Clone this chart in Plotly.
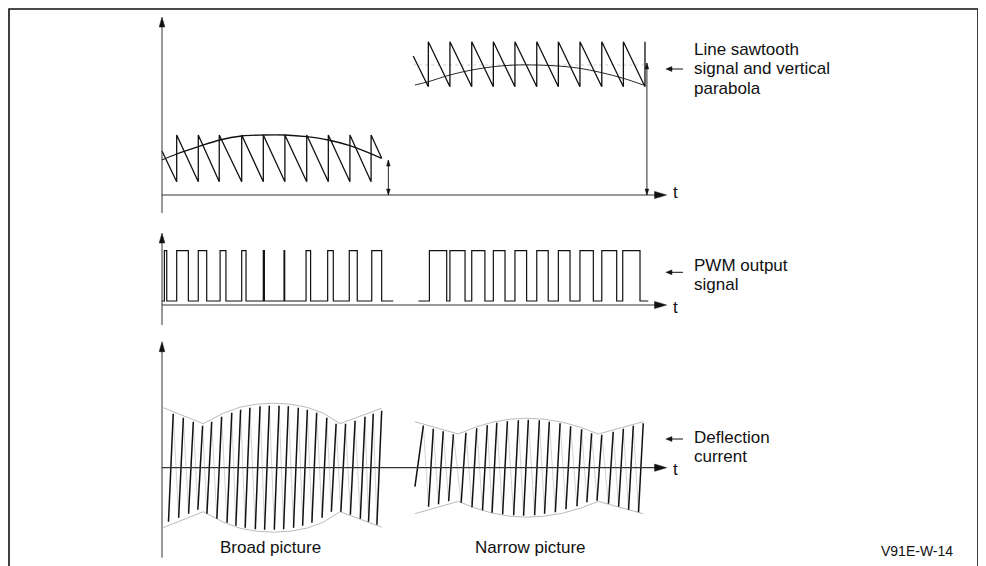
import plotly.graph_objects as go

# Time axis: one unit = one line period of the sawtooth, t = 0 at the vertical axes
T_END = 23.36

# ---- panel 1: line sawtooth and vertical parabola ----
SAW_BROAD_FLYBACK = [0.68, 1.68, 2.65, 3.69, 4.69, 5.69, 6.70, 7.70, 8.70, 9.68]
SAW_BROAD_LEVELS = (1.33, 6.0)
SAW_BROAD_START = (0.0, 4.4)
SAW_BROAD_END = (10.17, 3.67)
PARA_BROAD_T = [0.0, 0.68, 1.68, 2.68, 3.69, 4.69, 5.69, 6.70, 7.70, 8.70, 9.63, 10.17]
PARA_BROAD_V = [3.5, 4.1, 4.83, 5.5, 5.9, 6.0, 6.0, 5.83, 5.5, 4.93, 4.17, 3.67]

SAW_NARROW_FLYBACK = [12.33, 13.33, 14.34, 15.34, 16.34, 17.35, 18.35, 19.35, 20.36, 21.36, 22.36]
SAW_NARROW_LEVELS = (10.83, 15.33)
SAW_NARROW_START = (11.63, 13.9)
PARA_NARROW_T = [11.71, 12.33, 13.33, 14.34, 15.34, 16.34, 17.35, 18.35, 19.35, 20.36, 21.36, 22.28]
PARA_NARROW_V = [11.0, 11.33, 12.0, 12.5, 12.83, 13.0, 13.0, 12.9, 12.67, 12.23, 11.67, 11.0]

DC_MARK_T = [10.48, 22.45]
DC_MARK_V = [3.5, 13.2]

# ---- panel 2: PWM output ----
PWM_LEVELS = (0.4, 5.43)
PWM_BROAD_RISE = [0.11, 0.68, 1.68, 2.69, 3.69, 4.69, 5.65, 6.67, 7.67, 8.67, 9.71]
PWM_BROAD_FALL = [0.22, 1.22, 2.07, 2.96, 3.89, 4.74, 5.68, 6.88, 7.93, 9.04, 10.17]
PWM_BROAD_SPAN = (0.0, 10.71)
PWM_NARROW_RISE = [12.38, 13.33, 14.34, 15.34, 16.34, 17.35, 18.35, 19.35, 20.36, 21.33]
PWM_NARROW_FALL = [13.18, 14.03, 14.95, 15.88, 16.88, 17.88, 18.89, 19.97, 21.05, 22.13]
PWM_NARROW_SPAN = (11.87, 22.51)

# ---- panel 3: deflection current ----
ENV_BROAD_T = [0.06, 1.91, 2.84, 3.61, 4.38, 5.15, 5.93, 6.70, 7.47, 8.24, 10.17]
ENV_BROAD_A = [6.0, 4.4, 5.45, 6.05, 6.35, 6.45, 6.35, 6.05, 5.45, 4.4, 5.95]
ENV_NARROW_T = [11.71, 13.72, 14.51, 15.30, 16.09, 16.88, 17.71, 18.54, 19.37, 20.20, 22.28]
ENV_NARROW_A = [4.6, 3.37, 4.05, 4.55, 4.85, 4.95, 4.85, 4.55, 4.05, 3.37, 4.6]

DEFL_BROAD_T = [0.52, 0.99, 1.45, 1.88, 2.30, 2.76, 3.23, 3.64, 4.07, 4.54, 4.97, 5.42,
                5.85, 6.31, 6.73, 7.16, 7.63, 8.06, 8.50, 8.94, 9.40, 9.78, 10.17]
DEFL_BROAD_A = [5.4, 5.0, 4.6, 4.2, 4.6, 5.1, 5.5, 5.8, 6.0, 6.15, 6.2, 6.2,
                6.15, 6.0, 5.8, 5.5, 5.0, 4.4, 4.4, 4.7, 5.1, 5.4, 5.7]
DEFL_NARROW_T = [12.10, 12.56, 13.02, 13.49, 14.07, 14.57, 15.06, 15.50, 15.99, 16.50, 16.96,
                 17.47, 17.93, 18.43, 18.92, 19.43, 19.89, 20.36, 20.89, 21.36, 21.82, 22.28]
DEFL_NARROW_A = [4.2, 3.9, 3.65, 3.35, 3.5, 3.95, 4.25, 4.5, 4.65, 4.75, 4.8,
                 4.75, 4.6, 4.45, 4.15, 3.85, 3.45, 3.3, 3.6, 3.9, 4.2, 4.45]
DEFL_NARROW_START = (11.71, -1.9)

# drawing scale (pixels per unit); the page body adds an 8 px offset
PX_T, PX_V = 21.6, 10.0
OFF = 8
INK = "#111111"
FONT = "Liberation Sans, Arial, sans-serif"

fig = go.Figure()


def add_line(ts, vs, yaxis, color=INK, width=1.3, dash=None, shape="linear"):
    fig.add_trace(go.Scatter(x=ts, y=vs, yaxis=yaxis, mode="lines", hoverinfo="skip",
                             line=dict(color=color, width=width, dash=dash, shape=shape)))


def sawtooth(start, flyback, levels, end=None):
    ts, vs = [start[0]], [start[1]]
    for f in flyback:
        ts += [f, f]
        vs += [levels[0], levels[1]]
    if end:
        ts.append(end[0])
        vs.append(end[1])
    return ts, vs


def pwm(span, rise, fall, levels):
    lo, hi = levels
    ts, vs = [span[0]], [lo]
    for r, f in zip(rise, fall):
        ts += [r, r, f, f]
        vs += [lo, hi, hi, lo]
    ts.append(span[1])
    vs.append(lo)
    return ts, vs


def deflection(tops, amps, slant=0.22, start=None):
    black_t, black_v, grey_t, grey_v = [], [], [], []
    for i, (t, a) in enumerate(zip(tops, amps)):
        if i == 0 and start:
            b = start
        else:
            b = (t - slant, -a)
        black_t += [b[0], t, None]
        black_v += [b[1], a, None]
        if i + 1 < len(tops):
            grey_t += [t, tops[i + 1] - slant, None]
            grey_v += [a, -amps[i + 1], None]
    return black_t, black_v, grey_t, grey_v


shapes = []


def head(t, v, direction, yref, length=11, half=3.2):
    lt, lv, ht, hv = length / PX_T, length / PX_V, half / PX_T, half / PX_V
    if direction == "right":
        pts = [(t, v), (t - lt, v + hv), (t - lt, v - hv)]
    elif direction == "left":
        pts = [(t, v), (t + lt, v + hv), (t + lt, v - hv)]
    elif direction == "up":
        pts = [(t, v), (t - ht, v - lv), (t + ht, v - lv)]
    else:
        pts = [(t, v), (t - ht, v + lv), (t + ht, v + lv)]
    path = "M " + " L ".join(f"{a},{b}" for a, b in pts) + " Z"
    shapes.append(dict(type="path", path=path, xref="x", yref=yref,
                       fillcolor=INK, line=dict(color=INK, width=0.5)))


def seg(t0, v0, t1, v1, yref, width=1.1, color=INK):
    shapes.append(dict(type="line", x0=t0, y0=v0, x1=t1, y1=v1, xref="x", yref=yref,
                       line=dict(color=color, width=width)))


# panel 1
add_line([SAW_NARROW_START[0], SAW_NARROW_FLYBACK[-1]], [13.0, 13.0], "y",
         color="#cfcfcf", width=1, dash="dot")
add_line(PARA_BROAD_T, PARA_BROAD_V, "y", width=1.3, shape="spline")
add_line(PARA_NARROW_T, PARA_NARROW_V, "y", width=0.9, shape="spline")
t, v = sawtooth(SAW_BROAD_START, SAW_BROAD_FLYBACK, SAW_BROAD_LEVELS, SAW_BROAD_END)
add_line(t, v, "y", width=1.3)
t, v = sawtooth(SAW_NARROW_START, SAW_NARROW_FLYBACK, SAW_NARROW_LEVELS)
add_line(t, v, "y", width=1.3)

# panel 2
t, v = pwm(PWM_BROAD_SPAN, PWM_BROAD_RISE, PWM_BROAD_FALL, PWM_LEVELS)
add_line(t, v, "y2", width=1.2)
t, v = pwm(PWM_NARROW_SPAN, PWM_NARROW_RISE, PWM_NARROW_FALL, PWM_LEVELS)
add_line(t, v, "y2", width=1.2)

# panel 3
for et, ea in [(ENV_BROAD_T, ENV_BROAD_A), (ENV_NARROW_T, ENV_NARROW_A)]:
    add_line(et, ea, "y3", color="#a8a8a8", width=0.8)
    add_line(et, [-a for a in ea], "y3", color="#a8a8a8", width=0.8)
for tops, amps, start in [(DEFL_BROAD_T, DEFL_BROAD_A, None),
                          (DEFL_NARROW_T, DEFL_NARROW_A, DEFL_NARROW_START)]:
    bt, bv, gt, gv = deflection(tops, amps, start=start)
    add_line(gt, gv, "y3", color="#c2c2c2", width=0.7)
    add_line(bt, bv, "y3", width=1.5)

# axes of the three panels
for yref, lo, hi in [("y", -1.8, 17.8), ("y2", -2.0, 7.2), ("y3", -9.0, 12.6)]:
    seg(0, lo, 0, hi - 0.8, yref, width=1.0, color="#333333")
    head(0, hi, "up", yref, length=10, half=2.8)
    seg(0, 0, T_END - 0.4, 0, yref, width=1.3 if yref == "y3" else 1.0, color="#333333")
    head(T_END, 0, "right", yref, length=12, half=3.6)

# amplitude markers (double arrows) in panel 1
for mt, mv in zip(DC_MARK_T, DC_MARK_V):
    seg(mt, 0, mt, mv, "y", width=0.9)
    head(mt, mv, "up", "y", length=6, half=1.8)
    head(mt, 0, "down", "y", length=6, half=1.8)

# pointer arrows next to the descriptions
for yref, v in [("y", 12.6), ("y2", 3.27), ("y3", 2.87)]:
    seg(23.5, v, 24.12, v, yref, width=1.0)
    head(23.33, v, "left", yref, length=6, half=2.4)

# frame of the figure
shapes.append(dict(type="rect", xref="paper", yref="paper", x0=1 / 986, x1=(978 - OFF) / 986,
                   y0=-0.1, y1=1 - 1 / 566, line=dict(color=INK, width=1.6)))

annotations = []


def label(text, t, v, yref, size=17, xanchor="left"):
    annotations.append(dict(text=text, x=t, y=v, xref="x", yref=yref, showarrow=False,
                            xanchor=xanchor, yanchor="middle",
                            font=dict(family=FONT, size=size, color=INK)))


for i, line in enumerate(["Line sawtooth", "signal and vertical", "parabola"]):
    label(line, 24.52, 14.6 - 1.95 * i, "y")
label("PWM output", 24.52, 4.0, "y2")
label("signal", 24.52, 2.1, "y2")
label("Deflection", 24.52, 3.07, "y3")
label("current", 24.52, 1.17, "y3")
for yref, v in [("y", 0.3), ("y2", -0.2), ("y3", -0.2)]:
    label("t", 23.75, v, yref, xanchor="center")
label("Broad picture", 5.0, -7.93, "y3", xanchor="center")
label("Narrow picture", 17.04, -7.93, "y3", xanchor="center")
label("V91E-W-14", 34.95, -8.33, "y3", size=14, xanchor="center")

hidden = dict(visible=False, showgrid=False, zeroline=False, fixedrange=True)
fig.update_layout(
    width=986, height=566,
    margin=dict(l=0, r=0, t=0, b=0),
    paper_bgcolor="white", plot_bgcolor="white",
    showlegend=False,
    xaxis=dict(range=[(OFF - 162) / PX_T, (986 + OFF - 162) / PX_T], **hidden),
    yaxis=dict(range=[(195 - 566 - OFF) / PX_V, (195 - OFF) / PX_V], **hidden),
    yaxis2=dict(range=[(305 - 566 - OFF) / PX_V, (305 - OFF) / PX_V], overlaying="y", **hidden),
    yaxis3=dict(range=[(467.7 - 566 - OFF) / PX_V, (467.7 - OFF) / PX_V], overlaying="y", **hidden),
    shapes=shapes,
    annotations=annotations,
)

fig.write_html("out.html")
